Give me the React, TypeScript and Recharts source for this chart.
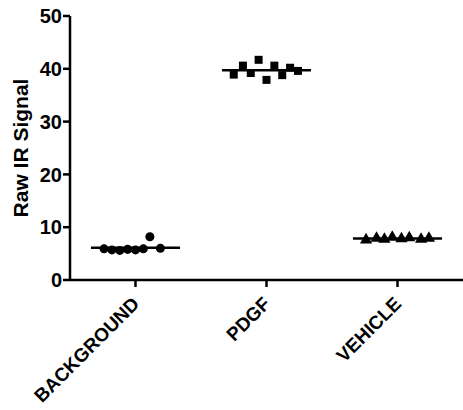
import { ScatterChart, Scatter, XAxis, YAxis, ZAxis, ReferenceLine } from "recharts";

// groups along the x axis
const groups = ["BACKGROUND", "PDGF", "VEHICLE"];
const yTicks = [0, 10, 20, 30, 40, 50];

// horizontal jitter (offset from the group centre) and raw values
const backgroundOffsets = [-0.24, -0.18, -0.12, -0.06, 0.0, 0.06, 0.11, 0.19];
const backgroundValues = [5.9, 5.7, 5.6, 5.8, 5.7, 5.9, 8.2, 6.0];

const pdgfOffsets = [-0.25, -0.18, -0.12, -0.06, 0.0, 0.06, 0.12, 0.18, 0.24];
const pdgfValues = [38.9, 40.6, 39.2, 41.7, 37.9, 40.6, 38.8, 40.2, 39.6];

const vehicleOffsets = [-0.24, -0.16, -0.1, -0.04, 0.03, 0.09, 0.18, 0.24];
const vehicleValues = [7.6, 7.9, 7.7, 8.1, 7.8, 8.0, 7.7, 7.9];

const toPoints = (center: number, offsets: number[], values: number[]) =>
  values.map((v, i) => ({ x: center + offsets[i], y: v }));

const mean = (values: number[]) => values.reduce((a, b) => a + b, 0) / values.length;

const series = [
  { name: groups[0], pts: toPoints(1, backgroundOffsets, backgroundValues), m: mean(backgroundValues), shape: "circle", z: "c" },
  { name: groups[1], pts: toPoints(2, pdgfOffsets, pdgfValues), m: mean(pdgfValues), shape: "square", z: "s" },
  { name: groups[2], pts: toPoints(3, vehicleOffsets, vehicleValues), m: mean(vehicleValues), shape: "triangle", z: "t" },
];

const font = "'Liberation Sans', Arial, sans-serif";

function XTick(props: any) {
  const { x, y, payload } = props;
  const tx = x + 5;
  const ty = y + 16;
  return (
    <text
      x={tx}
      y={ty}
      transform={`rotate(-45 ${tx} ${ty})`}
      textAnchor="end"
      fontFamily={font}
      fontWeight="bold"
      fontSize={19}
      fill="#000"
    >
      {groups[payload.value - 1]}
    </text>
  );
}

export default function App() {
  return (
    <div style={{ position: "absolute", left: 0, top: 0, background: "#fff" }}>
      <ScatterChart width={463} height={410} margin={{ top: 16, right: 0, bottom: 0, left: 0 }}>
        <XAxis
          type="number"
          dataKey="x"
          domain={[0.5, 3.5]}
          ticks={[1, 2, 3]}
          height={130}
          stroke="#000"
          strokeWidth={2.5}
          tickSize={7}
          tick={<XTick />}
          allowDataOverflow
        />
        <YAxis
          type="number"
          dataKey="y"
          domain={[0, 50]}
          ticks={yTicks}
          width={70}
          stroke="#000"
          strokeWidth={2.5}
          tickSize={7}
          tickMargin={1}
          tick={{ fontSize: 20, fontWeight: "bold", fill: "#000", fontFamily: font }}
          label={{
            content: ({ viewBox }: any) => {
              const lx = viewBox.x + 20;
              const ly = viewBox.y + viewBox.height / 2;
              return (
                <text
                  x={lx}
                  y={ly}
                  transform={`rotate(-90 ${lx} ${ly})`}
                  textAnchor="middle"
                  dominantBaseline="central"
                  fontFamily={font}
                  fontWeight="bold"
                  fontSize={21}
                  fill="#000"
                >
                  Raw IR Signal
                </text>
              );
            },
          }}
        />
        <ZAxis zAxisId="c" range={[95, 95]} />
        <ZAxis zAxisId="s" range={[115, 115]} />
        <ZAxis zAxisId="t" range={[70, 70]} />
        {series.map((s) => (
          <Scatter
            key={s.name}
            name={s.name}
            data={s.pts}
            shape={s.shape as any}
            zAxisId={s.z}
            fill="#000"
            isAnimationActive={false}
          />
        ))}
        {series.map((s, i) => (
          <ReferenceLine
            key={"m" + s.name}
            segment={[
              { x: i + 1 - 0.34, y: s.m },
              { x: i + 1 + 0.34, y: s.m },
            ]}
            stroke="#000"
            strokeWidth={2.5}
          />
        ))}
      </ScatterChart>
    </div>
  );
}
